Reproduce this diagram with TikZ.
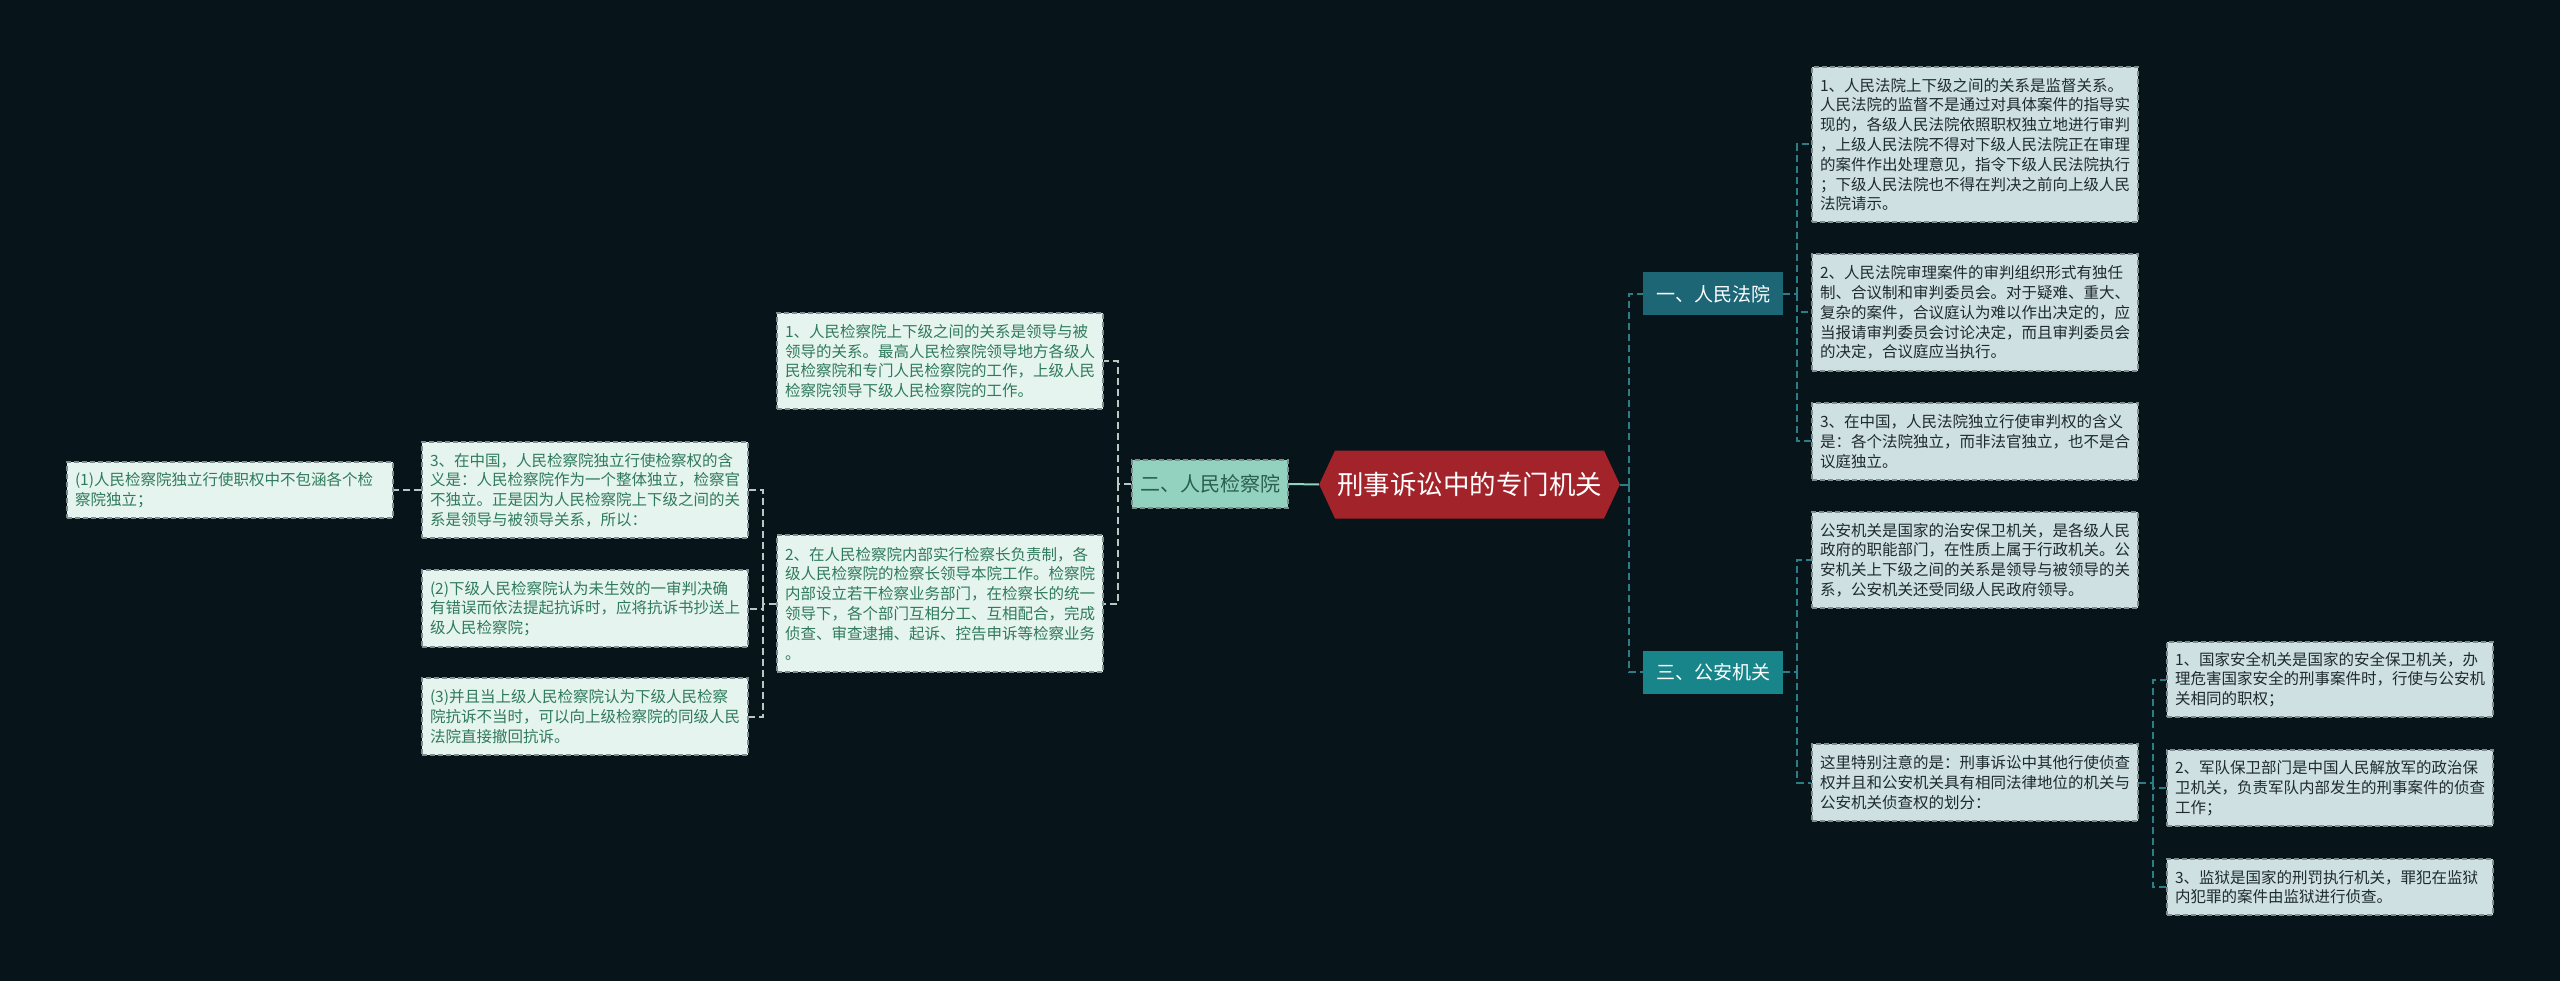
\documentclass[tikz,border=0pt]{standalone}
\usepackage{fontspec}
\setmainfont{Noto Sans CJK SC}
\usetikzlibrary{shapes.symbols}
\definecolor{bgc}{HTML}{07141A}
\definecolor{rfill}{HTML}{CFE0E3}
\definecolor{rtext}{HTML}{1E2A30}
\definecolor{lfill}{HTML}{E6F4EF}
\definecolor{ltext}{HTML}{2F7A5C}
\definecolor{bord}{HTML}{7E8E8E}
\definecolor{rline}{HTML}{2B7E86}
\definecolor{lline}{HTML}{B8C8C4}
\definecolor{mainred}{HTML}{A3232A}
\definecolor{twofill}{HTML}{92D2BE}
\definecolor{twotext}{HTML}{2B5E4E}
\definecolor{onefill}{HTML}{1C6676}
\definecolor{threefill}{HTML}{178589}
\tikzset{
  x=1pt, y=-1pt,
  basebox/.style={draw=bord, line width=1.2pt, dash pattern=on 5pt off 3pt, inner xsep=8pt, inner ysep=6pt,
    text width=310pt, align=left, font=\fontsize{15.5}{19.8}\selectfont, minimum width=326pt},
  rbox/.style={basebox, fill=rfill, text=rtext},
  lbox/.style={basebox, fill=lfill, text=ltext},
  rconn/.style={draw=rline, line width=2pt, dash pattern=on 7pt off 4pt},
  lconn/.style={draw=lline, line width=2pt, dash pattern=on 7pt off 4pt},
  branchbox/.style={minimum width=140pt, minimum height=43pt, inner sep=2pt, text=white, font=\fontsize{19}{22}\selectfont},
}
\begin{document}
\begin{tikzpicture}
\fill[bgc] (0,0) rectangle (2560,981);
\useasboundingbox (0,0) rectangle (2560,981);

% central
\node[shape=signal, signal to=west and east, signal pointer angle=130, fill=mainred, text=white,
  minimum width=288pt, minimum height=68pt, inner xsep=2pt, font=\fontsize{26.5}{30}\selectfont] (c) at (1469.5,484.5) {刑事诉讼中的专门机关};

% level-1
\node[draw=bord, line width=1.2pt, dash pattern=on 5pt off 3pt, fill=twofill, text=twotext, minimum width=156pt, minimum height=48pt, inner sep=2pt, font=\fontsize{20}{23}\selectfont] (n2) at (1210,484) {二、人民检察院};
\node[branchbox, fill=onefill] (n1) at (1713,294) {一、人民法院};
\node[branchbox, fill=threefill] (n3) at (1713,672) {三、公安机关};

% right boxes
\node[rbox, minimum height=155pt] (r1) at (1975,144.5) {1、人民法院上下级之间的关系是监督关系。\\人民法院的监督不是通过对具体案件的指导实\\现的，各级人民法院依照职权独立地进行审判\\，上级人民法院不得对下级人民法院正在审理\\的案件作出处理意见，指令下级人民法院执行\\；下级人民法院也不得在判决之前向上级人民\\法院请示。};
\node[rbox, minimum height=117pt] (r2) at (1975,312.5) {2、人民法院审理案件的审判组织形式有独任\\制、合议制和审判委员会。对于疑难、重大、\\复杂的案件，合议庭认为难以作出决定的，应\\当报请审判委员会讨论决定，而且审判委员会\\的决定，合议庭应当执行。};
\node[rbox, minimum height=77pt] (r3) at (1975,441.5) {3、在中国，人民法院独立行使审判权的含义\\是：各个法院独立，而非法官独立，也不是合\\议庭独立。};
\node[rbox, minimum height=96pt] (g1) at (1975,560) {公安机关是国家的治安保卫机关，是各级人民\\政府的职能部门，在性质上属于行政机关。公\\安机关上下级之间的关系是领导与被领导的关\\系，公安机关还受同级人民政府领导。};
\node[rbox, minimum height=77pt] (g2) at (1975,782.5) {这里特别注意的是：刑事诉讼中其他行使侦查\\权并且和公安机关具有相同法律地位的机关与\\公安机关侦查权的划分：};
\node[rbox, minimum height=75pt] (s1) at (2330,679.5) {1、国家安全机关是国家的安全保卫机关，办\\理危害国家安全的刑事案件时，行使与公安机\\关相同的职权；};
\node[rbox, minimum height=76pt] (s2) at (2330,788) {2、军队保卫部门是中国人民解放军的政治保\\卫机关，负责军队内部发生的刑事案件的侦查\\工作；};
\node[rbox, minimum height=56pt] (s3) at (2330,887) {3、监狱是国家的刑罚执行机关，罪犯在监狱\\内犯罪的案件由监狱进行侦查。};

% left boxes
\node[lbox, minimum height=96pt] (l1) at (940,361) {1、人民检察院上下级之间的关系是领导与被\\领导的关系。最高人民检察院领导地方各级人\\民检察院和专门人民检察院的工作，上级人民\\检察院领导下级人民检察院的工作。};
\node[lbox, minimum height=137pt] (l2) at (940,603.5) {2、在人民检察院内部实行检察长负责制，各\\级人民检察院的检察长领导本院工作。检察院\\内部设立若干检察业务部门，在检察长的统一\\领导下，各个部门互相分工、互相配合，完成\\侦查、审查逮捕、起诉、控告申诉等检察业务\\。};
\node[lbox, minimum height=96pt] (l3) at (585,490) {3、在中国，人民检察院独立行使检察权的含\\义是：人民检察院作为一个整体独立，检察官\\不独立。正是因为人民检察院上下级之间的关\\系是领导与被领导关系，所以：};
\node[lbox, minimum height=77pt] (l4) at (585,608.5) {(2)下级人民检察院认为未生效的一审判决确\\有错误而依法提起抗诉时，应将抗诉书抄送上\\级人民检察院；};
\node[lbox, minimum height=77pt] (l5) at (585,716.5) {(3)并且当上级人民检察院认为下级人民检察\\院抗诉不当时，可以向上级检察院的同级人民\\法院直接撤回抗诉。};
\node[lbox, minimum height=56pt] (l0) at (230,490) {(1)人民检察院独立行使职权中不包涵各个检\\察院独立；};

% junctions
\coordinate (jr) at (1629,484.5);
\coordinate (j4) at (1797,294);
\coordinate (j5) at (1797,672);
\coordinate (j6) at (2153,782.5);
\coordinate (j2) at (1118,484);
\coordinate (j3) at (763,603.5);

% connectors right
\draw[rline, line width=2pt] (c.east) -- (jr);
\draw[rconn] (jr) |- (n1.west);
\draw[rconn] (jr) |- (n3.west);
\draw[rconn] (n1.east) -- (j4);
\draw[rconn] (j4) |- (r1.west);
\draw[rconn] (j4) |- (r2.west);
\draw[rconn] (j4) |- (r3.west);
\draw[rconn] (n3.east) -- (j5);
\draw[rconn] (j5) |- (g1.west);
\draw[rconn] (j5) |- (g2.west);
\draw[rconn] (g2.east) -- (j6);
\draw[rconn] (j6) |- (s1.west);
\draw[rconn] (j6) |- (s2.west);
\draw[rconn] (j6) |- (s3.west);

% connectors left
\draw[twofill, line width=2pt] (c.west) -- (n2.east);
\draw[lconn] (n2.west) -- (j2);
\draw[lconn] (j2) |- (l1.east);
\draw[lconn] (j2) |- (l2.east);
\draw[lconn] (l2.west) -- (j3);
\draw[lconn] (j3) |- (l3.east);
\draw[lconn] (j3) |- (l4.east);
\draw[lconn] (j3) |- (l5.east);
\draw[lconn] (l3.west) -- (l0.east);
\end{tikzpicture}
\end{document}
